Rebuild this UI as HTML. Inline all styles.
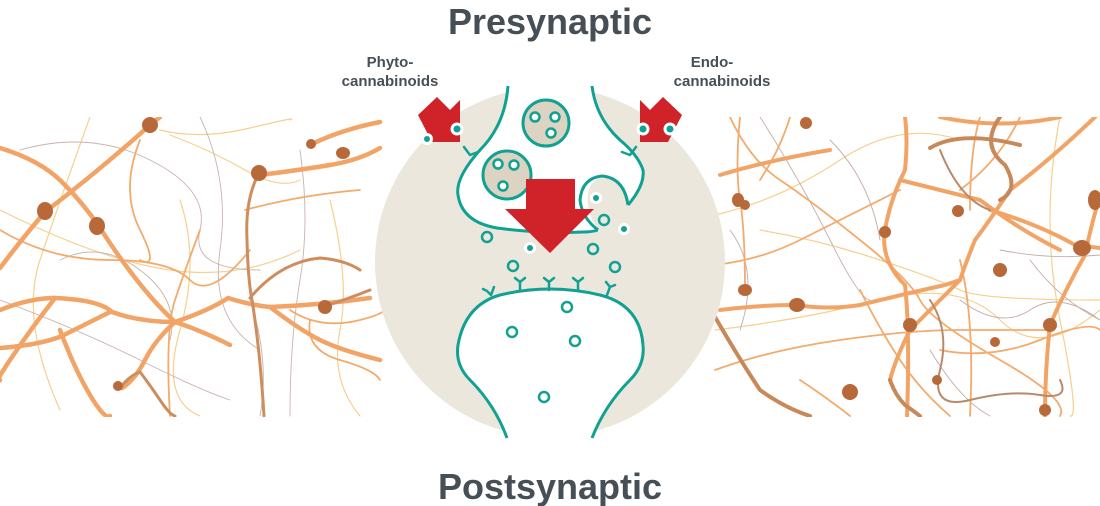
<!DOCTYPE html>
<html><head><meta charset="utf-8"><style>
html,body{margin:0;padding:0;background:#fff;}
body{width:1100px;height:506px;overflow:hidden;position:relative;font-family:"Liberation Sans",sans-serif;}
svg{position:absolute;left:0;top:0;}
</style></head><body>
<svg width="1100" height="506" viewBox="0 0 1100 506" xmlns="http://www.w3.org/2000/svg">
<defs><clipPath id="band"><rect x="0" y="117" width="1100" height="300"/></clipPath></defs>
<g clip-path="url(#band)" fill="none" stroke-linecap="round">
 <g stroke="#f6d08e" stroke-width="1.2">
  <path d="M160 130 Q200 140 250 128 T290 120"/>
  <path d="M170 135 Q210 150 245 170 T300 180"/>
  <path d="M90 117 Q60 200 40 260 T60 410"/>
  <path d="M180 200 Q200 260 180 330 T200 416"/>
  <path d="M330 200 Q350 280 340 330 T360 416"/>
  <path d="M0 210 Q100 260 170 270 T300 250"/>
 </g>
 <g stroke="#c9b2ad" stroke-width="0.9">
  <path d="M20 150 Q90 130 150 160 T200 230 T260 270"/>
  <path d="M60 260 Q100 240 140 270 T170 340"/>
  <path d="M200 117 Q230 180 220 250 T260 350"/>
  <path d="M0 300 Q80 330 140 360 T230 400"/>
  <path d="M300 150 Q310 220 300 280 T290 416"/>
  <path d="M250 300 Q270 360 260 416"/>
 </g>
 <g stroke="#f3ab6c" stroke-width="1.8">
  <path d="M0 230 Q50 260 110 260 T190 280 T250 250"/>
  <path d="M140 140 Q120 190 140 230 T140 260"/>
  <path d="M200 230 Q185 270 175 300 T170 416"/>
  <path d="M245 210 Q300 195 360 190"/>
  <path d="M290 310 Q320 330 360 320 T380 300"/>
  <path d="M310 320 Q305 350 340 360 T380 380"/>
 </g>
 <g stroke="#f1a466" stroke-width="4.5">
  <path d="M0 148 Q40 160 62 182 T100 228 Q140 290 175 322"/>
  <path d="M0 268 Q25 235 45 212 Q100 170 150 125 L160 117"/>
  <path d="M0 310 Q30 298 55 298 Q100 300 112 312 Q140 322 175 322 Q210 310 228 298 Q250 305 270 307 Q320 305 370 298"/>
  <path d="M0 348 Q40 345 62 336 Q90 322 110 312"/>
  <path d="M175 322 Q155 340 145 360 T122 388"/>
  <path d="M175 322 Q200 330 230 345"/>
  <path d="M270 307 Q300 330 320 340 T380 360"/>
  <path d="M260 175 Q300 170 330 165 T380 148"/>
  <path d="M310 145 Q340 130 380 122"/>
  <path d="M55 298 Q30 330 10 360 T0 380"/>
  <path d="M60 330 Q75 370 90 395 T110 416"/>
 </g>
 <g stroke="#cd8d5d" stroke-width="3">
  <path d="M258 175 Q245 200 247 240 Q248 280 252 300 Q260 350 264 416"/>
  <path d="M250 298 Q280 262 320 258 Q345 260 360 270"/>
  <path d="M322 307 Q345 300 370 290"/>
  <path d="M120 388 Q130 375 140 372 Q150 385 160 400 T175 416"/>
 </g>
 <g fill="#b8693a" stroke="none">
  <ellipse cx="45" cy="211" rx="8" ry="9"/>
  <ellipse cx="97" cy="226" rx="8" ry="9"/>
  <ellipse cx="150" cy="125" rx="8" ry="8"/>
  <circle cx="259" cy="173" r="8"/>
  <circle cx="311" cy="144" r="5"/>
  <ellipse cx="343" cy="153" rx="7" ry="6"/>
  <circle cx="325" cy="307" r="7"/>
  <circle cx="118" cy="386" r="5"/>
 </g>
 <g stroke="#f6d08e" stroke-width="1.2">
  <path d="M715 215 Q780 200 840 160 T960 140"/>
  <path d="M715 330 Q800 320 880 300 T1000 320 T1100 310"/>
  <path d="M760 230 Q820 240 880 260 T960 290 T1100 300"/>
  <path d="M1060 117 Q1040 220 1060 320 T1070 416"/>
 </g>
 <g stroke="#c4aca8" stroke-width="0.9">
  <path d="M760 117 Q800 180 830 240 T870 300"/>
  <path d="M730 230 Q760 270 740 330"/>
  <path d="M830 140 Q870 180 880 240"/>
  <path d="M1000 250 Q1050 260 1100 255"/>
  <path d="M960 300 Q1000 330 1030 310 T1100 320"/>
  <path d="M930 350 Q960 400 990 416"/>
  <path d="M1030 260 Q1060 300 1100 320"/>
 </g>
 <g stroke="#f3ab6c" stroke-width="1.8">
  <path d="M730 117 Q750 160 780 180 T860 240 T920 300 T1000 360 T1060 416"/>
  <path d="M740 117 Q735 170 740 200 T745 290"/>
  <path d="M715 265 Q760 260 800 240 T900 190"/>
  <path d="M790 117 Q780 150 760 180"/>
  <path d="M980 117 Q970 150 970 210"/>
  <path d="M1020 117 Q1000 160 960 190"/>
  <path d="M715 370 Q770 350 840 340 T960 330 T1050 330"/>
  <path d="M940 350 Q990 360 1040 340 T1100 330"/>
  <path d="M960 260 Q975 320 970 416"/>
  <path d="M860 290 Q880 330 900 360 T950 416"/>
  <path d="M800 380 Q830 400 850 416"/>
 </g>
 <g stroke="#f1a466" stroke-width="4">
  <path d="M720 310 Q760 305 795 305 Q830 310 860 305 Q900 295 945 285 L960 280"/>
  <path d="M905 117 Q908 140 905 170 Q890 200 885 230 Q880 260 905 285 Q910 330 907 416"/>
  <path d="M1095 117 Q1050 160 1010 190 Q990 220 975 240 Q965 265 960 280 Q930 310 910 330 Q895 360 890 380"/>
  <path d="M990 210 Q1040 225 1075 245 L1100 248"/>
  <path d="M1100 195 Q1090 230 1085 255 Q1065 290 1050 325 Q1045 370 1045 416"/>
  <path d="M900 180 Q940 190 980 200 Q1020 230 1060 250"/>
  <path d="M720 175 Q770 160 830 150"/>
  <path d="M940 117 Q1000 130 1060 117"/>
 </g>
 <g stroke="#c8895a" stroke-width="4">
  <path d="M715 317 Q740 360 760 390 Q785 408 810 416"/>
  <path d="M890 380 Q895 395 905 405 Q915 412 920 416"/>
  <path d="M1000 117 Q980 145 1005 165 Q1020 190 1000 200"/>
  <path d="M930 148 Q960 130 1020 145"/>
 </g>
 <g stroke="#b88a6a" stroke-width="2">
  <path d="M930 300 Q950 330 940 370 T970 400 T1040 395 T1060 380"/>
  <path d="M940 150 Q960 200 990 210"/>
 </g>
 <g fill="#b8693a" stroke="none">
  <ellipse cx="738" cy="200" rx="6" ry="7"/>
  <ellipse cx="745" cy="205" rx="5" ry="5"/>
  <ellipse cx="745" cy="290" rx="7" ry="6"/>
  <ellipse cx="797" cy="305" rx="8" ry="7"/>
  <circle cx="806" cy="123" r="6"/>
  <circle cx="885" cy="232" r="6"/>
  <circle cx="958" cy="211" r="6"/>
  <circle cx="1000" cy="270" r="7"/>
  <ellipse cx="1082" cy="248" rx="9" ry="8"/>
  <ellipse cx="1095" cy="200" rx="7" ry="10"/>
  <circle cx="910" cy="325" r="7"/>
  <circle cx="1050" cy="325" r="7"/>
  <circle cx="1045" cy="410" r="6"/>
  <circle cx="850" cy="392" r="8"/>
  <circle cx="995" cy="342" r="5"/>
  <circle cx="937" cy="380" r="5"/>
 </g>
</g>
<circle cx="550" cy="262" r="175" fill="#ece7dc"/>
<path d="M508 86 Q505 125 480 150 Q455 178 458 195 Q462 222 497 228 Q540 234 583 232 L600 232 Q590 220 588 205 Q585 180 605 176 Q625 176 630 205 Q645 185 643 170 Q638 155 620 140 Q596 118 592 86 Z" fill="#fff" stroke="none"/>
<path d="M508 86 Q505 125 480 150 Q455 178 458 195 Q462 222 497 228 Q540 234 583 232 Q592 232 598 230 M598 230 Q582 218 580 200 Q582 178 602 176 Q624 178 628 205 M628 205 Q645 185 643 170 Q638 155 620 140 Q596 118 592 86"
 fill="none" stroke="#11a193" stroke-width="3"/>
<g stroke="#11a193" stroke-width="2.5" fill="none" stroke-linecap="round">
 <path d="M470 155 l-6 -8 m6 8 l8 -3"/>
 <path d="M630 155 l6 -8 m-6 8 l-8 -3"/>
</g>
<g stroke="#11a193" stroke-width="3">
 <circle cx="546" cy="123" r="23" fill="#ddd3c2"/>
 <circle cx="507" cy="175" r="24" fill="#ddd3c2"/>
</g>
<g stroke="#11a193" stroke-width="2.5" fill="#fff">
 <circle cx="535" cy="117" r="4.5"/><circle cx="555" cy="117" r="4.5"/><circle cx="551" cy="133" r="4.5"/>
 <circle cx="498" cy="164" r="4.5"/><circle cx="514" cy="165" r="4.5"/><circle cx="503" cy="186" r="4.5"/>
</g>
<path d="M526 179 H575 V209 H594 L550 253 L505 209 H526 Z" fill="#cf2229"/>
<path d="M507 440 Q495 405 470 380 Q455 365 458 345 Q465 305 500 295 Q550 283 600 295 Q640 305 643 345 Q645 365 630 380 Q605 405 592 440 Z" fill="#fff" stroke="none"/>
<path d="M507 438 Q495 405 470 380 Q455 365 458 345 Q465 305 500 295 Q550 283 600 295 Q640 305 643 345 Q645 365 630 380 Q605 405 592 438" fill="none" stroke="#11a193" stroke-width="3"/>
<g stroke="#11a193" stroke-width="2.5" fill="none" stroke-linecap="round">
 <path d="M491 295 l-4 -4 m4 4 l3 -8 M483 289 l4 2"/>
 <path d="M520 290 v-8 m0 0 l-5 -4 m5 4 l5 -4"/>
 <path d="M549 290 v-8 m0 0 l-5 -4 m5 4 l5 -4"/>
 <path d="M578 290 v-8 m0 0 l-5 -4 m5 4 l5 -4"/>
 <path d="M607 295 l3 -8 m0 0 l-4 -5 m4 5 l5 -2"/>
</g>
<g stroke="#11a193" stroke-width="2.5" fill="none">
 <circle cx="487" cy="237" r="5"/><circle cx="513" cy="266" r="5"/><circle cx="593" cy="249" r="5"/>
 <circle cx="615" cy="267" r="5"/><circle cx="604" cy="220" r="5"/><circle cx="567" cy="307" r="5"/>
 <circle cx="512" cy="332" r="5"/><circle cx="575" cy="341" r="5"/><circle cx="544" cy="397" r="5"/>
</g>
<g fill="#11a193" stroke="#fff" stroke-width="3">
 <circle cx="596" cy="198" r="4.5"/><circle cx="624" cy="229" r="4.5"/><circle cx="530" cy="248" r="4.5"/>
</g>
<path d="M418 115 L437 97 L450 110 L460 100 V142 H432 Z" fill="#cf2229"/>
<path d="M682 115 L663 97 L650 110 L640 100 V142 H668 Z" fill="#cf2229"/>
<g fill="#11a193" stroke="#fff" stroke-width="3">
 <circle cx="457" cy="129" r="5"/><circle cx="643" cy="129" r="5"/><circle cx="670" cy="129" r="5"/>
 <circle cx="427" cy="139" r="4.5"/>
</g>
<g font-family="Liberation Sans, sans-serif" font-weight="bold" fill="#474f56" text-anchor="middle">
 <text x="550" y="34" font-size="36">Presynaptic</text>
 <text x="550" y="499" font-size="36">Postsynaptic</text>
 <text x="390" y="67" font-size="15">Phyto-</text>
 <text x="390" y="86" font-size="15">cannabinoids</text>
 <text x="712" y="67" font-size="15">Endo-</text>
 <text x="722" y="86" font-size="15">cannabinoids</text>
</g>
</svg>
</body></html>
